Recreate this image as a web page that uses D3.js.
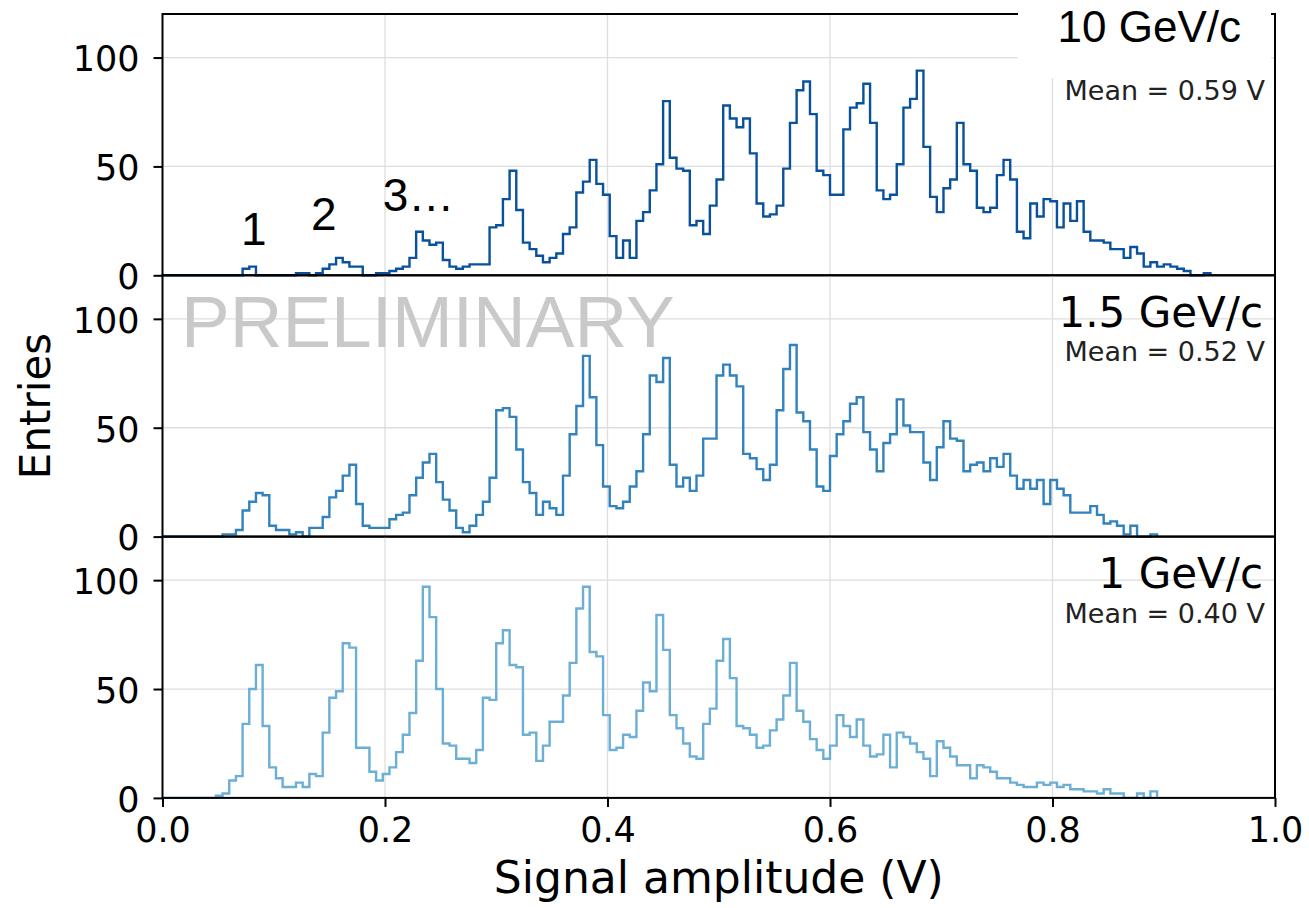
<!DOCTYPE html>
<meta charset="utf-8">
<style>
body{margin:0;background:#fff;}
.grid line{stroke:#dedede;stroke-width:1.3;}
</style>
<svg width="1309" height="908"></svg>
<script src="https://cdn.jsdelivr.net/npm/d3@7"></script>
<script>

// histogram bin width in volts, bins start at 0 V
var binWidth = 0.006;

// 10 GeV/c counts per bin
var counts10 = [0,0,0,0,0,0,0,0,0,0,0,0,3,4,0,0,0,0,0,0,
1,1,0,1,3,5,8,6,4,4,0,0,1,1,2,3,4,8,20,16,
14,15,7,4,3,4,5,5,5,22,23,35,48,30,15,12,9,6,8,10,
19,22,38,43,53,42,37,18,8,16,8,25,29,39,51,80,54,49,48,23,
25,19,32,44,78,72,68,72,56,33,27,28,32,49,70,85,89,74,48,46,
37,37,67,77,79,88,70,39,35,37,51,77,81,94,59,36,29,40,44,70,
51,48,31,29,31,46,53,44,20,17,33,27,35,34,22,33,25,34,20,16,
16,15,12,12,8,13,10,4,6,4,5,4,3,2,0,0,1];

// 1.5 GeV/c counts per bin
var counts15 = [0,0,0,0,0,0,0,0,0,1,1,3,12,16,20,19,5,3,3,1,
2,0,4,4,9,18,21,28,33,15,5,4,4,4,8,10,11,19,27,34,
38,25,17,12,4,2,5,10,16,27,58,59,55,40,25,20,10,16,13,10,
28,47,60,83,64,42,23,14,13,16,23,30,47,74,71,82,33,23,27,21,
28,45,45,74,79,74,69,38,36,31,26,33,58,77,88,57,53,40,23,21,
37,47,53,61,64,48,40,30,43,47,63,51,48,48,34,26,41,53,45,44,
30,33,34,30,36,32,38,28,22,26,22,26,15,26,22,19,11,11,11,14,
10,6,7,5,1,5,0,0,1];

// 1 GeV/c counts per bin
var counts1 = [0,0,0,0,0,0,0,0,1,2,8,10,34,50,61,33,14,9,5,5,
7,5,11,10,30,46,49,71,69,23,23,12,8,11,14,21,29,39,63,97,
83,50,25,24,18,18,16,22,46,45,71,77,61,60,29,30,17,24,35,35,
47,62,87,97,67,65,38,22,23,29,28,40,53,49,84,68,38,32,25,19,
18,34,41,63,73,55,33,32,29,23,24,31,36,47,62,40,35,27,22,18,
24,38,33,28,36,24,19,20,29,14,30,28,25,21,18,10,26,23,19,15,
15,9,15,14,12,9,9,7,6,5,5,7,6,7,5,6,4,4,3,3,
2,4,2,2,0,0,2,0,3];

var momenta = ["10 GeV/c", "1.5 GeV/c", "1 GeV/c"];
var means = ["Mean = 0.59 V", "Mean = 0.52 V", "Mean = 0.40 V"];
var colors = ["#08519c", "#3182bd", "#6baed6"];
var yTicks = [0, 50, 100];
var xTicks = [0, 0.2, 0.4, 0.6, 0.8, 1.0];
var gridX = [0.2, 0.4, 0.6, 0.8];
// photoelectron peak labels: text, x position (V), baseline height (entries)
var peakLabels = [{t:"1", v:0.0705, c:14}, {t:"2", v:0.1335, c:21}, {t:"3\u2026", v:0.198, c:29.5}];

var series = [counts10, counts15, counts1];

var svg = d3.select("svg");
var left = 162.5, right = 1275;
var tops = [14, 275.3, 536.6], panelH = 261.3;
var sans = "'Liberation Sans', Arial, sans-serif";

var x = d3.scaleLinear().domain([0, 1]).range([left, right]);

function stepPoints(counts) {
  var pts = [[0, 0]];
  counts.forEach(function(c, i) {
    pts.push([i * binWidth, c]);
    pts.push([(i + 1) * binWidth, c]);
  });
  pts.push([counts.length * binWidth, 0]);
  return pts;
}

series.forEach(function(counts, p) {
  var top = tops[p];
  var y = d3.scaleLinear().domain([0, 120]).range([top + panelH, top]);
  var g = svg.append("g");

  // grid
  var grid = g.append("g").attr("class", "grid");
  grid.selectAll(".gx").data(gridX).enter().append("line")
    .attr("x1", d => x(d)).attr("x2", d => x(d))
    .attr("y1", top).attr("y2", top + panelH);
  grid.selectAll(".gy").data([50, 100]).enter().append("line")
    .attr("x1", left).attr("x2", right)
    .attr("y1", d => y(d)).attr("y2", d => y(d));

  if (p === 1) {
    g.append("text").text("PRELIMINARY")
      .attr("x", 181).attr("y", 346.7)
      .style("font-family", sans).style("font-size", "73px")
      .style("fill", "#c9c9c9");
  }

  var line = d3.line().x(d => x(d[0])).y(d => y(d[1]));
  g.append("path").datum(stepPoints(counts))
    .attr("d", line)
    .attr("fill", "none")
    .attr("stroke", colors[p])
    .attr("stroke-width", 2.4)
    .attr("stroke-linejoin", "miter");

  // y axis
  var yAxis = d3.axisLeft(y).tickValues(yTicks).tickSize(9).tickPadding(14);
  var ya = g.append("g").attr("transform", "translate(" + left + ",0)").call(yAxis);
  ya.select(".domain").remove();
  ya.selectAll(".tick line").attr("stroke", "#000").attr("stroke-width", 2);
  ya.selectAll(".tick text").attr("dy", "0.38em").attr("fill", "#000")
    .style("font-family", "DejaVu Sans").style("font-size", "35px");

  if (p === 2) {
    var xAxis = d3.axisBottom(x).tickValues(xTicks).tickSize(9).tickPadding(9)
      .tickFormat(d3.format(".1f"));
    var xa = g.append("g").attr("transform", "translate(0," + (top + panelH) + ")").call(xAxis);
    xa.select(".domain").remove();
    xa.selectAll(".tick line").attr("stroke", "#000").attr("stroke-width", 2);
    xa.selectAll(".tick text").attr("fill", "#000")
      .style("font-family", "DejaVu Sans").style("font-size", "35px")
      .attr("dy", "0.76em");
  }

  // frame
  g.append("rect").attr("x", left).attr("y", top)
    .attr("width", right - left).attr("height", panelH)
    .attr("fill", "none").attr("stroke", "#000").attr("stroke-width", 2);

  if (p === 0) {
    // pasted label box covering the corner
    g.append("rect").attr("x", 1018).attr("y", 0).attr("width", 253).attr("height", 78)
      .attr("fill", "#fff");
    g.append("text").text(momenta[p])
      .attr("x", 1241).attr("y", 42).attr("text-anchor", "end")
      .style("font-family", sans).style("font-size", "44px").style("fill", "#000");
    g.selectAll(".peak").data(peakLabels).enter().append("text")
      .text(d => d.t)
      .attr("x", d => x(d.v)).attr("y", d => y(d.c))
      .style("font-family", sans).style("font-size", "46px").style("fill", "#000");
  } else {
    g.append("text").text(momenta[p])
      .attr("x", 1263).attr("y", top + 51.7).attr("text-anchor", "end")
      .style("font-family", "DejaVu Sans").style("font-size", "42px").style("fill", "#000");
  }
  g.append("text").text(means[p])
    .attr("x", 1265).attr("y", top + 86).attr("text-anchor", "end")
    .style("font-family", "DejaVu Sans").style("font-size", "27px").style("fill", "#222");
});

svg.append("text").text("Entries")
  .attr("transform", "translate(50,406) rotate(-90)")
  .attr("text-anchor", "middle")
  .style("font-family", "DejaVu Sans").style("font-size", "42px");

svg.append("text").text("Signal amplitude (V)")
  .attr("x", (left + right) / 2).attr("y", 893)
  .attr("text-anchor", "middle")
  .style("font-family", "DejaVu Sans").style("font-size", "44px");

</script>
